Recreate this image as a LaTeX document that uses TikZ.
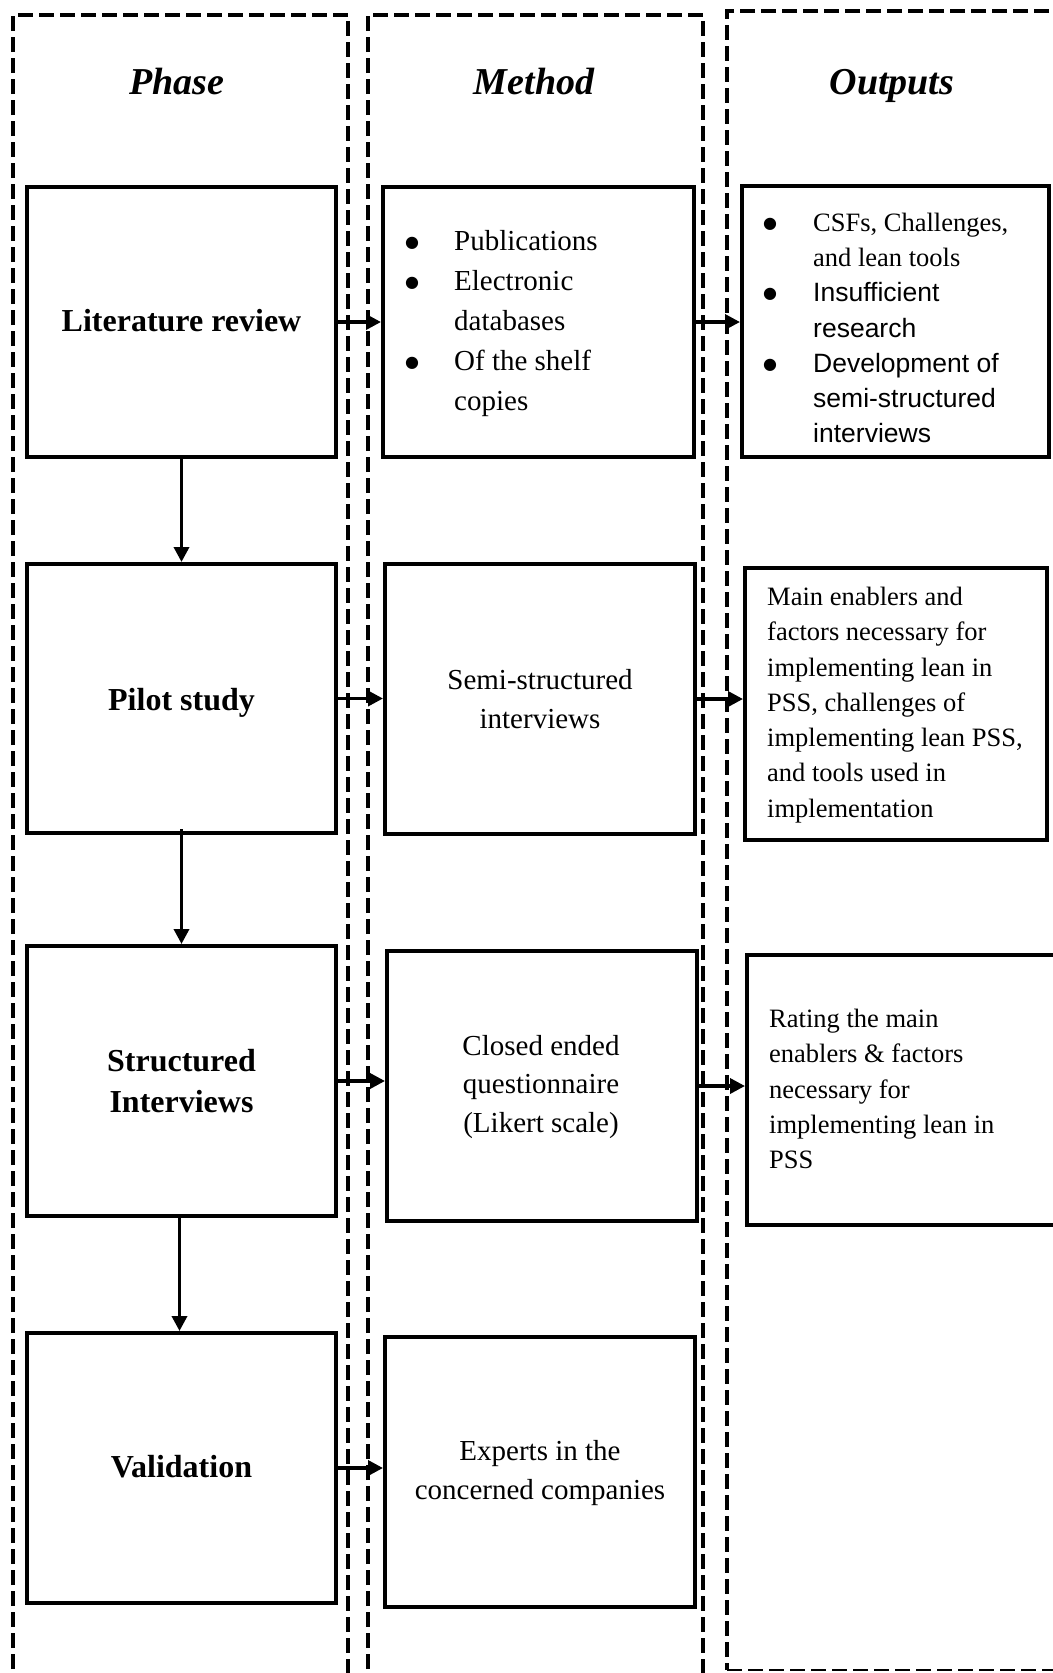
\documentclass[tikz,border=0pt]{standalone}
\usepackage{fontspec}
\setmainfont{Liberation Serif}
\newfontfamily\arialfont{Liberation Sans}
\newfontfamily\symfont{DejaVu Sans}
\usetikzlibrary{arrows.meta}

% list bullet
\newcommand\bigdot{\raisebox{3pt}{\fontsize{16}{16}\selectfont\symfont ●}}

\begin{document}
\begin{tikzpicture}[x=1pt,y=-1pt,
  column/.style={draw, line width=4pt, dash pattern=on 15pt off 6pt},
  stagebox/.style={draw, line width=4pt, rectangle, inner sep=0pt},
  flow/.style={line width=3.5pt, -{Triangle[length=15pt,width=15pt]}},
  headfont/.style={font=\fontsize{38}{44}\selectfont\bfseries\itshape, anchor=base},
  phasefont/.style={font=\fontsize{32}{41}\selectfont\bfseries, align=center},
  methodfont/.style={font=\fontsize{29}{38.5}\selectfont, align=center},
  listfont/.style={font=\fontsize{29}{40}\selectfont, align=left, inner sep=0pt, anchor=west},
  outfont/.style={font=\fontsize{26.5}{35.3}\selectfont, align=left, inner sep=0pt, anchor=west},
]
\useasboundingbox (0,0) rectangle (1052,1673);

% dashed column frames
\draw[column] (13,1690) -- (13,15) -- (348,15) -- (348,1690);
\draw[column] (368,1690) -- (368,15) -- (703,15) -- (703,1690);
\draw[column] (1070,11) -- (727,11) -- (727,1670);
\draw[line width=2.5pt, dash pattern=on 15pt off 6pt] (727,1670) -- (1070,1670);

% column headings
\node[headfont] (hphase) at (177,94) {Phase};
\node[headfont] (hmethod) at (534,94) {Method};
\node[headfont] (houtputs) at (892,94) {Outputs};

% phase boxes
\node[stagebox, minimum width=309pt, minimum height=270pt] (P1) at (181.5,322) {};
\node[stagebox, minimum width=309pt, minimum height=269pt] (P2) at (181.5,698.5) {};
\node[stagebox, minimum width=309pt, minimum height=270pt] (P3) at (181.5,1081) {};
\node[stagebox, minimum width=309pt, minimum height=270pt] (P4) at (181.5,1468) {};

% method boxes
\node[stagebox, minimum width=311pt, minimum height=270pt] (M1) at (538.5,322) {};
\node[stagebox, minimum width=310pt, minimum height=270pt] (M2) at (540,699) {};
\node[stagebox, minimum width=310pt, minimum height=270pt] (M3) at (542,1086) {};
\node[stagebox, minimum width=310pt, minimum height=270pt] (M4) at (540,1472) {};

% output boxes
\node[stagebox, minimum width=307pt, minimum height=271pt] (O1) at (895.5,321.5) {};
\node[stagebox, minimum width=302pt, minimum height=272pt] (O2) at (896,704) {};
\node[stagebox, minimum width=323pt, minimum height=270pt] (O3) at (908.5,1090) {};

% phase labels
\node[phasefont] (tP1) at (181.5,321) {Literature review};
\node[phasefont] (tP2) at (181.5,703) {Pilot study};
\node[phasefont] (tP3) at (181.5,1081) {Structured\\Interviews};
\node[phasefont] (tP4) at (181.5,1467) {Validation};

% method labels
\node[listfont] (tM1) at (405,324) {%
  \makebox[49pt][l]{\bigdot}Publications\\
  \makebox[49pt][l]{\bigdot}Electronic\\
  \hspace*{49pt}databases\\
  \makebox[49pt][l]{\bigdot}Of the shelf\\
  \hspace*{49pt}copies};
\node[methodfont] (tM2) at (540,699) {Semi-structured\\interviews};
\node[methodfont] (tM3) at (541,1087) {Closed ended\\questionnaire\\(Likert scale)};
\node[methodfont] (tM4) at (540,1473) {Experts in the\\concerned companies};

% output labels
\node[outfont] (tO1) at (763,328) {%
  \makebox[50pt][l]{\bigdot}CSFs, Challenges,\\
  \hspace*{50pt}and lean tools\\
  \makebox[50pt][l]{\bigdot}{\arialfont Insufficient}\\
  \hspace*{50pt}{\arialfont research}\\
  \makebox[50pt][l]{\bigdot}{\arialfont Development of}\\
  \hspace*{50pt}{\arialfont semi-structured}\\
  \hspace*{50pt}{\arialfont interviews}};
\node[outfont] (tO2) at (767,705) {Main enablers and\\factors necessary for\\implementing lean in\\PSS, challenges of\\implementing lean PSS,\\and tools used in\\implementation};
\node[outfont] (tO3) at (769,1089) {Rating the main\\enablers \& factors\\necessary for\\implementing lean in\\PSS};

% flow between phases
\draw[flow] (P1.south) -- (P2.north);
\draw[flow] ([yshift=6pt]P2.south) -- (P3.north);
\draw[flow] ([xshift=-2pt]P3.south) -- ([xshift=-2pt]P4.north);

% phase to method
\draw[flow] (P1.east) -- (P1.east -| M1.west);
\draw[flow] (P2.east) -- (P2.east -| M2.west);
\draw[flow] (P3.east) -- (P3.east -| M3.west);
\draw[flow] (P4.east) -- (P4.east -| M4.west);

% method to outputs
\draw[flow] (M1.east) -- (M1.east -| O1.west);
\draw[flow] (M2.east) -- (M2.east -| O2.west);
\draw[flow] (M3.east) -- (M3.east -| O3.west);
\end{tikzpicture}
\end{document}
